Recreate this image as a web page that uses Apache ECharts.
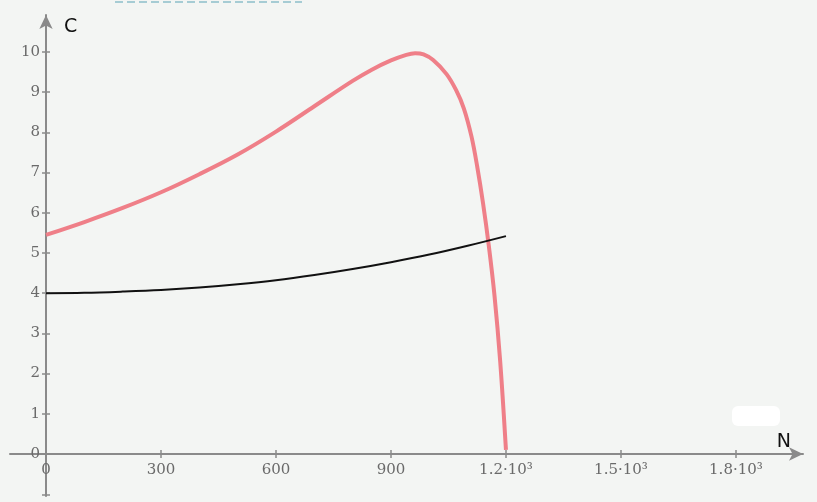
<!DOCTYPE html>
<html>
<head>
<meta charset="utf-8">
<script src="https://cdn.jsdelivr.net/npm/echarts@6/dist/echarts.min.js"></script>
<style>
  html, body { margin: 0; padding: 0; background: #f3f5f3; }
  #chart { width: 817px; height: 502px; }
</style>
</head>
<body>
<div id="chart"></div>
<script>
// N values and C readings for the two curves
const redN = [0, 100, 200, 300, 400, 500, 600, 700, 800, 850, 900, 940, 963, 985, 1010, 1045, 1070, 1090, 1110, 1125, 1140, 1155, 1170, 1185, 1200];
const redC = [5.45, 5.77, 6.12, 6.51, 6.96, 7.45, 8.02, 8.65, 9.28, 9.56, 9.79, 9.93, 9.97, 9.94, 9.8, 9.45, 9.05, 8.6, 7.9, 7.15, 6.25, 5.2, 3.95, 2.3, 0.1];

const blackN = [0, 100, 200, 300, 400, 500, 600, 700, 800, 900, 1000, 1100, 1200];
const blackC = [4.0, 4.01, 4.04, 4.08, 4.14, 4.22, 4.32, 4.45, 4.6, 4.77, 4.96, 5.18, 5.42];

const xTicks = [0, 300, 600, 900, 1200, 1500, 1800];
const xTickLabels = ["0", "300", "600", "900", "1.2·10³", "1.5·10³", "1.8·10³"];
const yTicks = [0, 1, 2, 3, 4, 5, 6, 7, 8, 9, 10];

const zip = (xs, ys) => xs.map((x, i) => [x, ys[i]]);

const labelFont = {
  fontFamily: "DejaVu Serif",
  fontSize: 15,
  color: "#6a6a6a",
};

const axisGrey = "#8a8a8a";
const xRange = { min: -94, max: 1975 };
const yRange = { min: -1.045, max: 10.92 };

const chart = echarts.init(document.getElementById("chart"));

chart.setOption({
  backgroundColor: "#f3f5f3",
  animation: false,
  grid: { left: 10, right: 14, top: 15, bottom: 6, outerBoundsMode: "none", containLabel: false },
  xAxis: [
    {
      type: "value",
      ...xRange,
      position: "bottom",
      offset: -42,
      name: "N",
      nameLocation: "end",
      nameGap: 0,
      nameTextStyle: {
        fontFamily: "DejaVu Sans",
        fontSize: 19,
        color: "#111",
        align: "right",
        verticalAlign: "bottom",
        padding: [0, 12, 2, 0],
      },
      splitLine: { show: false },
      axisLine: {
        onZero: false,
        symbol: ["none", "arrow"],
        symbolSize: [10, 14],
        lineStyle: { color: axisGrey, width: 2 },
      },
      axisTick: {
        customValues: xTicks,
        length: 4,
        lineStyle: { color: axisGrey, width: 1.5 },
      },
      axisLabel: {
        customValues: xTicks,
        formatter: (v) => xTickLabels[xTicks.indexOf(v)],
        margin: 9,
        ...labelFont,
      },
    },
    {
      // inner half of the x ticks
      type: "value",
      ...xRange,
      position: "bottom",
      offset: -42,
      splitLine: { show: false },
      axisLine: { show: false, onZero: false },
      axisTick: {
        customValues: xTicks,
        inside: true,
        length: 4,
        lineStyle: { color: axisGrey, width: 1.5 },
      },
      axisLabel: { show: false },
    },
  ],
  yAxis: [
    {
      type: "value",
      ...yRange,
      position: "left",
      offset: -36,
      name: "C",
      nameLocation: "end",
      nameGap: 0,
      nameTextStyle: {
        fontFamily: "DejaVu Sans",
        fontSize: 19,
        color: "#111",
        align: "left",
        verticalAlign: "top",
        padding: [3, 0, 0, 18],
      },
      splitLine: { show: false },
      axisLine: {
        onZero: false,
        symbol: ["none", "arrow"],
        symbolSize: [10, 14],
        lineStyle: { color: axisGrey, width: 2 },
      },
      axisTick: {
        customValues: yTicks,
        length: 4,
        lineStyle: { color: axisGrey, width: 1.5 },
      },
      axisLabel: {
        customValues: yTicks,
        margin: 6,
        ...labelFont,
      },
    },
    {
      // inner half of the y ticks
      type: "value",
      ...yRange,
      position: "left",
      offset: -36,
      splitLine: { show: false },
      axisLine: { show: false, onZero: false },
      axisTick: {
        customValues: yTicks,
        inside: true,
        length: 4,
        lineStyle: { color: axisGrey, width: 1.5 },
      },
      axisLabel: { show: false },
    },
  ],
  series: [
    {
      type: "line",
      data: zip(redN, redC),
      smooth: 0.35,
      showSymbol: false,
      lineStyle: { color: "#ef7f88", width: 4 },
      z: 3,
    },
    {
      type: "line",
      data: zip(blackN, blackC),
      smooth: 0.35,
      showSymbol: false,
      lineStyle: { color: "#111", width: 2 },
      z: 4,
    },
  ],
  graphic: [
    {
      type: "line",
      shape: { x1: 115, y1: 2, x2: 302, y2: 2 },
      style: { stroke: "#5aa3b5", lineWidth: 1.2, lineDash: [8, 4] },
    },
    {
      type: "rect",
      shape: { x: 732, y: 406, width: 48, height: 20, r: 6 },
      style: { fill: "#ffffff" },
    },
    {
      type: "line",
      shape: { x1: 42, y1: 495, x2: 50, y2: 495 },
      style: { stroke: axisGrey, lineWidth: 1.5 },
    },
  ],
});
</script>
</body>
</html>
